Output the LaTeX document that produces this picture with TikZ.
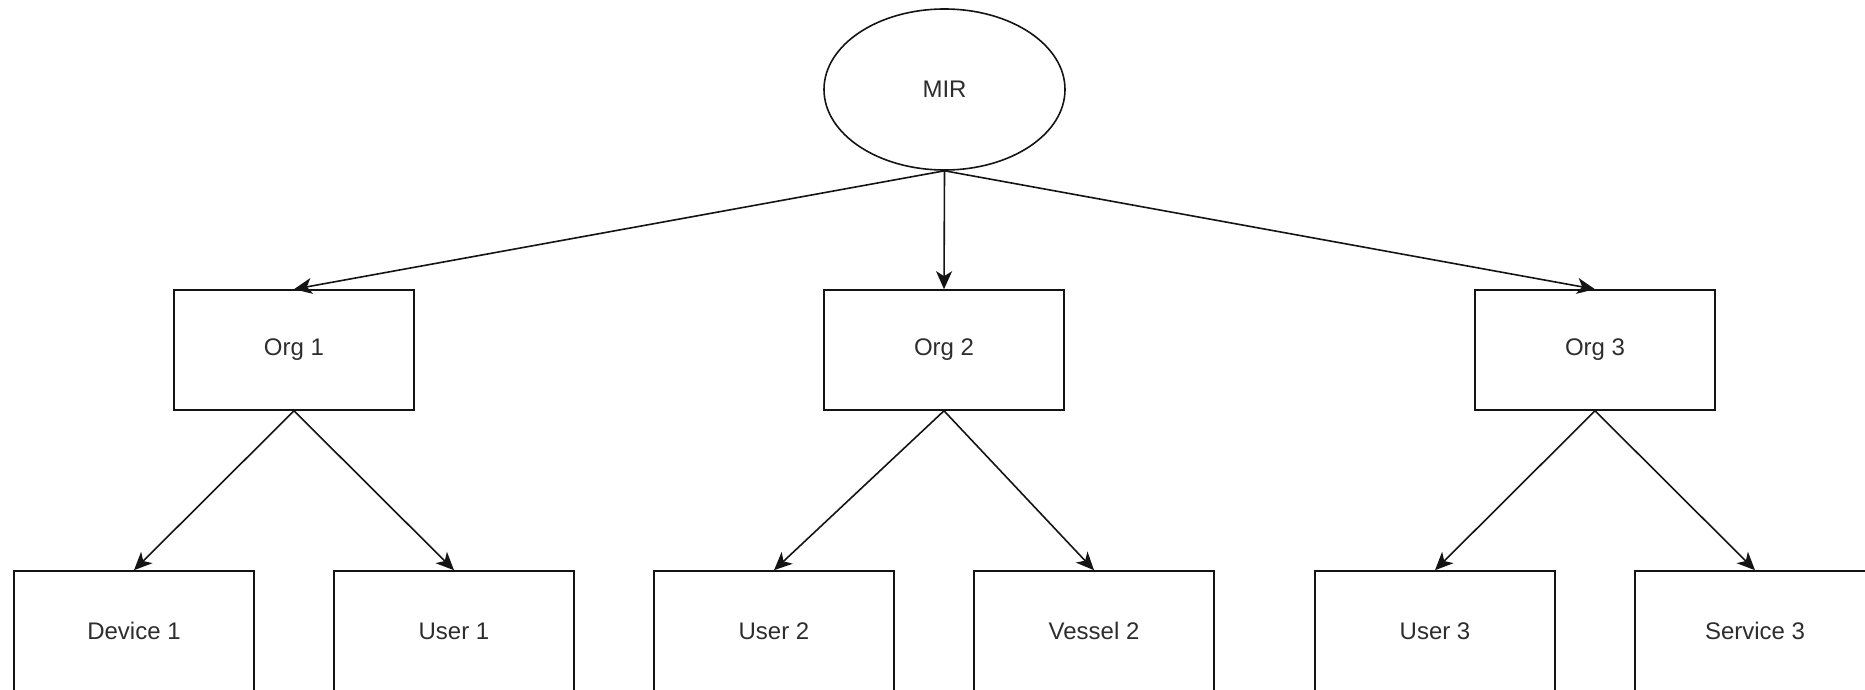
\documentclass[tikz,border=0pt]{standalone}
\usepackage{fontspec}
\setmainfont{Liberation Sans}
\usetikzlibrary{arrows.meta,shapes.geometric}
\definecolor{inkline}{RGB}{20,20,20}
\definecolor{inktext}{RGB}{45,45,45}
\begin{document}
\begin{tikzpicture}[x=1pt,y=-1pt,
  every node/.style={font=\fontsize{24pt}{28pt}\selectfont, text=inktext},
  entity/.style={draw=inkline, line width=1.6pt, rectangle, minimum width=240pt, minimum height=120pt, inner sep=0pt},
  root/.style={draw=inkline, line width=1.6pt, ellipse, minimum width=241pt, minimum height=161pt, inner sep=0pt},
  link/.style={draw=inkline, line width=1.6pt, -{Stealth[length=18pt, width=16pt, inset=5pt]}}
]
\useasboundingbox (0,0) rectangle (1865,690);

% root
\node[root] (mir) at (944.5,89.5) {MIR};

% organisations
\node[entity] (org1) at (294,350) {Org 1};
\node[entity] (org2) at (944,350) {Org 2};
\node[entity] (org3) at (1595,350) {Org 3};

% members
\node[entity] (dev1) at (134,631) {Device 1};
\node[entity] (usr1) at (454,631) {User 1};
\node[entity] (usr2) at (774,631) {User 2};
\node[entity] (ves2) at (1094,631) {Vessel 2};
\node[entity] (usr3) at (1435,631) {User 3};
\node[entity] (svc3) at (1755,631) {Service 3};

% connectors
\draw[link] (mir.south) -- (org1.north);
\draw[link] (mir.south) -- (org2.north);
\draw[link] (mir.south) -- (org3.north);

\draw[link] (org1.south) -- (dev1.north);
\draw[link] (org1.south) -- (usr1.north);
\draw[link] (org2.south) -- (usr2.north);
\draw[link] (org2.south) -- (ves2.north);
\draw[link] (org3.south) -- (usr3.north);
\draw[link] (org3.south) -- (svc3.north);
\end{tikzpicture}
\end{document}
